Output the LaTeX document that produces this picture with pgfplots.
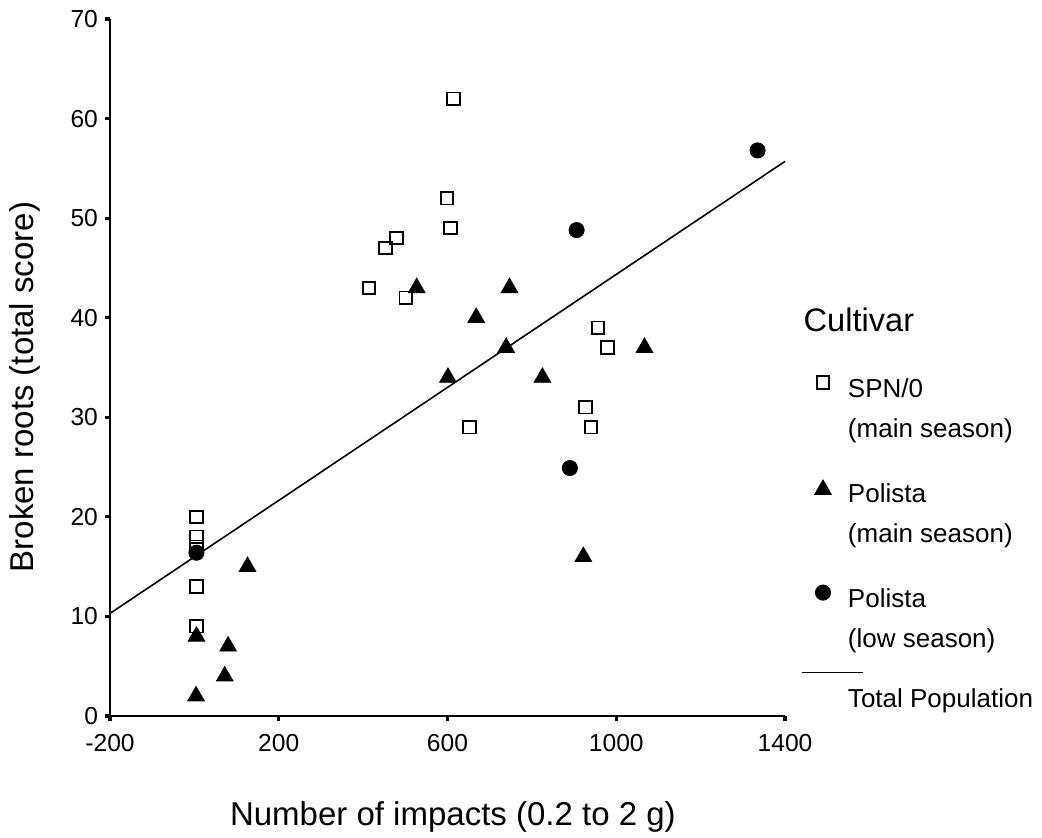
\documentclass[border=0pt]{standalone}
\usepackage{pgfplots}
\pgfplotsset{compat=1.18}
\usepackage{fontspec}
\setmainfont{Liberation Sans}
\pgfplotsset{
  legmarkA/.style={legend image code/.code={\path[draw=none,fill=none] (0pt,0pt) rectangle (12pt,12pt); \draw[##1] plot coordinates {(6pt,7.5pt)};}},
  legmarkB/.style={legend image code/.code={\path[draw=none,fill=none] (0pt,0pt) rectangle (12pt,12pt); \draw[##1] plot coordinates {(6pt,6.5pt)};}},
  leglineC/.style={legend image code/.code={\path[draw=none,fill=none] (0pt,0pt) rectangle (12pt,10pt); \draw[##1, overlay] (-4.5pt,20pt) -- (26pt,20pt);}},
}
\begin{document}
\begin{tikzpicture}
\path[use as bounding box] (-55pt,-61pt) rectangle (466pt,358pt);
\begin{axis}[
 at={(0,0)}, anchor=south west,
 scale only axis, width=337.5pt, height=348.5pt,
 xmin=-200, xmax=1400, ymin=0, ymax=70,
 clip=false,
 axis lines=left, axis line style={-, line width=1.2pt, black},
 xtick={-200,200,600,1000,1400}, ytick={0,10,...,70},
 tick align=outside, major tick length=2.5pt, tick style={line width=1.6pt, black},
 /pgf/number format/assume math mode=true,
 /pgf/number format/1000 sep={},
 scaled ticks=false,
 ticklabel style={font=\fontsize{12.3}{14}\selectfont},
 xticklabel style={yshift=-3pt},
 xlabel={Number of impacts (0.2 to 2 g)},
 ylabel={Broken roots (total score)},
 label style={font=\fontsize{16.5}{19}\selectfont},
 x label style={at={(axis description cs:0.508,-0.145)}, anchor=center},
 y label style={at={(axis description cs:-0.126,0.472)}, anchor=center},
 legend style={draw=none, fill=none, inner sep=0pt, outer sep=0pt,
   at={(axis description cs:1.0385,0.497)}, anchor=north west,
   cells={anchor=base west}, row sep=12.5pt, column sep=6.5pt,
   nodes={inner sep=0pt, text depth={}},
   font=\fontsize{13}{20}\selectfont},
]
\addplot[only marks, mark=square, mark size=3.1pt, mark options={line width=0.9pt, fill=white, draw=black}, legmarkA]
 coordinates {
 (614,62) (599,52) (607,49) (479,48) (453,47) (414,43) (501,42)
 (957,39) (979,37) (927,31) (940,29) (652,29)
 (5,20) (5,18) (5,17) (5,13) (5,9)
 };
\addlegendentry{\begin{tabular}[t]{@{}l@{}}SPN/0\\(main season)\end{tabular}}
\addplot[only marks, mark=triangle*, mark size=4.8pt, mark options={fill=black, draw=black}, black, legmarkB]
 coordinates {
 (527,43) (747,43) (668,40) (739,37) (1067,37) (601,34) (825,34)
 (922,16) (126,15) (5,8) (80,7) (72,4) (4,2)
 };
\addlegendentry{\begin{tabular}[t]{@{}l@{}}Polista\\(main season)\end{tabular}}
\addplot[only marks, mark=*, mark size=3.8pt, mark options={fill=black, draw=black}, black, legmarkA]
 coordinates {
 (1335,56.8) (906,48.8) (890,24.9) (5,16.4)
 };
\addlegendentry{\begin{tabular}[t]{@{}l@{}}Polista\\(low season)\end{tabular}}
\addplot[black, line width=0.8pt, mark=none, leglineC]
 coordinates {(-200,10.3) (1400,55.7)};
\addlegendentry{\raisebox{2.5pt}[14pt][0pt]{Total Population}}
\node[anchor=base west, font=\fontsize{16.3}{18}\selectfont, inner sep=0pt] at (axis description cs:1.027,0.551) {Cultivar};
\end{axis}
\end{tikzpicture}
\end{document}
